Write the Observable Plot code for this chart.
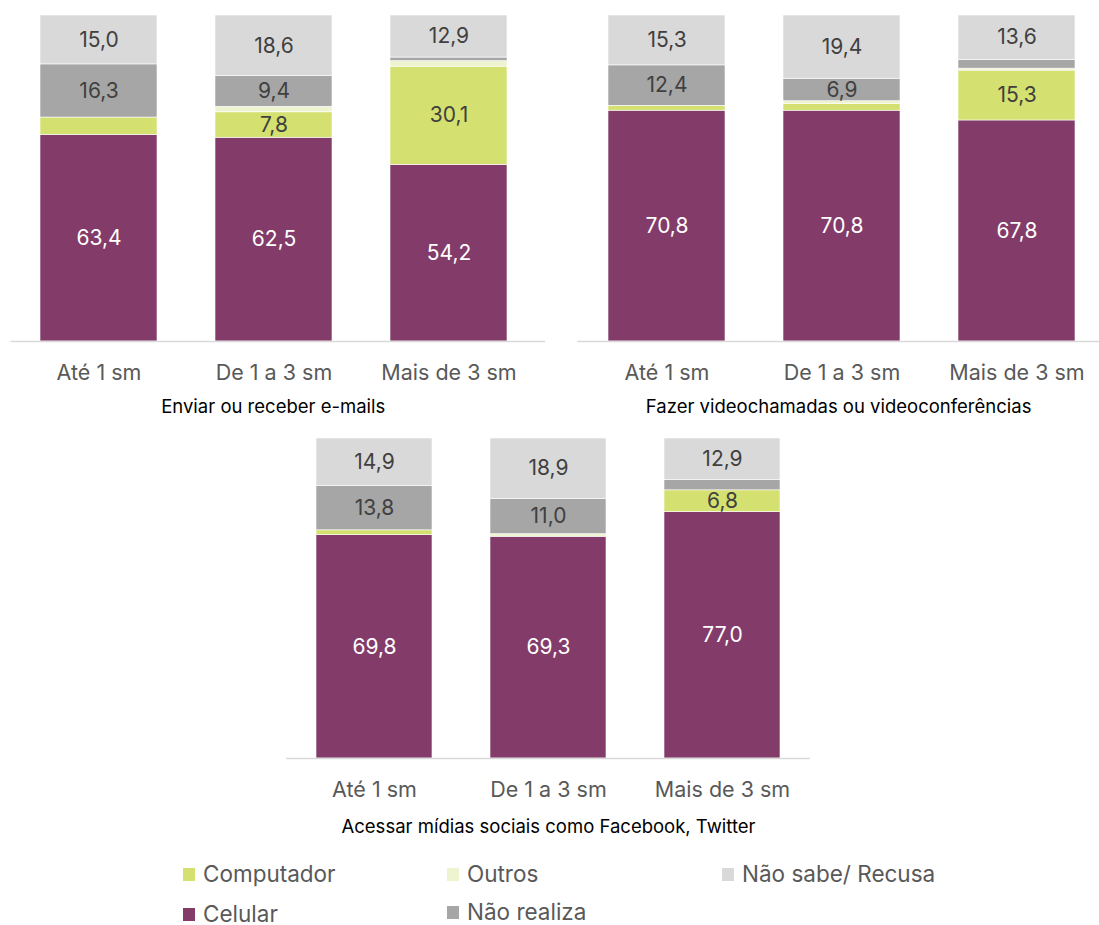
<!DOCTYPE html>
<html>
<head>
<meta charset="utf-8">
<script src="https://cdn.jsdelivr.net/npm/d3@7"></script>
<script src="https://cdn.jsdelivr.net/npm/@observablehq/plot@0.6"></script>
<style>
  html, body { margin: 0; padding: 0; background: #fff; }
  body { width: 1099px; height: 925px; position: relative; overflow: hidden; font-family: Inter, "Open Sans", sans-serif; }
  .panel { position: absolute; }
  .leg { position: absolute; font-size: 22.5px; line-height: 22px; color: #595959; display: flex; align-items: center; white-space: nowrap; }
  .leg .sw { width: 12px; height: 13px; margin-right: 8px; display: inline-block; }
</style>
</head>
<body>
<div id="p1" class="panel" style="left:0px;top:0px"></div>
<div id="p2" class="panel" style="left:566px;top:0px"></div>
<div id="p3" class="panel" style="left:275px;top:423px"></div>
<div id="legend"></div>
<script>
// ---- data ----
const categories = ["Até 1 sm", "De 1 a 3 sm", "Mais de 3 sm"];
const series = ["Celular", "Computador", "Outros", "Não realiza", "Não sabe/ Recusa"];
const seriesColors = ["#833C69", "#D4E06F", "#EEF4D0", "#A6A6A6", "#D9D9D9"];

const titles = [
  "Enviar ou receber e-mails",
  "Fazer videochamadas ou videoconferências",
  "Acessar mídias sociais como Facebook, Twitter"
];

// Enviar ou receber e-mails
const emailCelular    = [63.4, 62.5, 54.2];
const emailComputador = [5.3, 7.8, 30.1];
const emailOutros     = [0.0, 1.7, 1.7];
const emailNaoRealiza = [16.3, 9.4, 1.1];
const emailNaoSabe    = [15.0, 18.6, 12.9];

// Fazer videochamadas ou videoconferências
const videoCelular    = [70.8, 70.8, 67.8];
const videoComputador = [1.5, 2.0, 15.3];
const videoOutros     = [0.0, 0.9, 0.6];
const videoNaoRealiza = [12.4, 6.9, 2.7];
const videoNaoSabe    = [15.3, 19.4, 13.6];

// Acessar mídias sociais
const socialCelular    = [69.8, 69.3, 77.0];
const socialComputador = [1.5, 0.0, 6.8];
const socialOutros     = [0.0, 0.8, 0.0];
const socialNaoRealiza = [13.8, 11.0, 3.3];
const socialNaoSabe    = [14.9, 18.9, 12.9];

// ---- helpers ----
const fmt = v => v.toFixed(1).replace(".", ",");
const minLabel = 6;

function rowsFrom(arrays) {
  return categories.flatMap((c, i) => series.map((s, j) => ({cat: c, series: s, value: arrays[j][i]})));
}

function panel({arrays, title, width, plotHeight, marginLeft, range, tickDy, titleDy, titleDx}) {
  const rows = rowsFrom(arrays);
  const marginTop = 15, marginBottom = 84;
  return Plot.plot({
    width,
    height: marginTop + plotHeight + marginBottom,
    marginTop, marginBottom, marginLeft, marginRight: 0,
    style: {fontFamily: "Inter, 'Open Sans', sans-serif", background: "transparent", overflow: "visible"},
    x: {domain: categories, range, paddingInner: 1/3, paddingOuter: 1/6, axis: null},
    y: {domain: [0, 100], axis: null},
    color: {domain: series, range: seriesColors},
    marks: [
      Plot.barY(rows, {x: "cat", y: "value", fill: "series", z: "series", order: series, stroke: "white", strokeWidth: 0.6}),
      Plot.ruleY([0], {stroke: "#D9D9D9", strokeWidth: 1.5}),
      Plot.text(rows, Plot.stackY({x: "cat", y: "value", z: "series", order: series,
        text: d => d.series === "Celular" && d.value >= minLabel ? fmt(d.value) : null,
        fill: "white", fontSize: 21})),
      Plot.text(rows, Plot.stackY({x: "cat", y: "value", z: "series", order: series,
        text: d => d.series !== "Celular" && d.value >= minLabel ? fmt(d.value) : null,
        fill: "#404040", fontSize: 21})),
      Plot.text(categories, {x: d => d, text: d => d, frameAnchor: "bottom", lineAnchor: "middle", dy: tickDy, fill: "#595959", fontSize: 21.5}),
      Plot.text([title], {frameAnchor: "bottom", lineAnchor: "middle", dy: titleDy, dx: titleDx, fill: "#000000", fontSize: 18.5})
    ]
  });
}

document.getElementById("p1").append(panel({
  arrays: [emailCelular, emailComputador, emailOutros, emailNaoRealiza, emailNaoSabe],
  title: titles[0], width: 545, plotHeight: 326, marginLeft: 10.5, range: [10.5, 537],
  tickDy: 32, titleDy: 66, titleDx: -5
}));
document.getElementById("p2").append(panel({
  arrays: [videoCelular, videoComputador, videoOutros, videoNaoRealiza, videoNaoSabe],
  title: titles[1], width: 533, plotHeight: 326, marginLeft: 11.3, range: [11.3, 538.5],
  tickDy: 32, titleDy: 66, titleDx: 0
}));
document.getElementById("p3").append(panel({
  arrays: [socialCelular, socialComputador, socialOutros, socialNaoRealiza, socialNaoSabe],
  title: titles[2], width: 535, plotHeight: 320, marginLeft: 11, range: [11, 535],
  tickDy: 32, titleDy: 69, titleDx: 0
}));

// ---- legend ----
const legendItems = [
  {s: "Computador", x: 183, y: 874},
  {s: "Outros", x: 447, y: 874},
  {s: "Não sabe/ Recusa", x: 722, y: 874},
  {s: "Celular", x: 183, y: 914},
  {s: "Não realiza", x: 447, y: 912}
];
const leg = document.getElementById("legend");
legendItems.forEach(it => {
  const d = document.createElement("div");
  d.className = "leg";
  d.style.left = it.x + "px";
  d.style.top = (it.y - 11) + "px";
  d.style.height = "22px";
  const sw = document.createElement("span");
  sw.className = "sw";
  sw.style.background = seriesColors[series.indexOf(it.s)];
  const t = document.createElement("span");
  t.textContent = it.s;
  d.append(sw, t);
  leg.append(d);
});
</script>
</body>
</html>
